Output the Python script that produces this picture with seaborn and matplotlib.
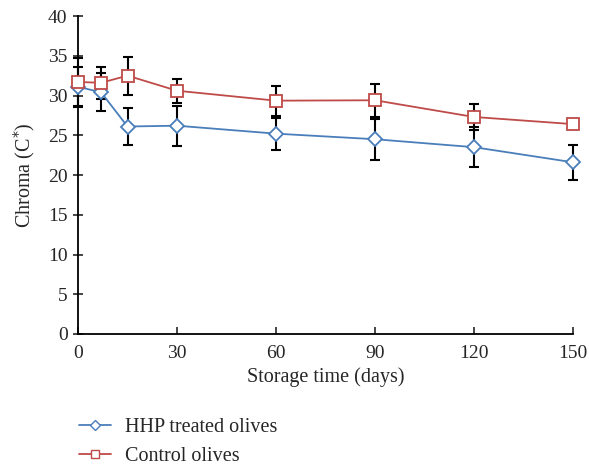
import matplotlib
matplotlib.use("Agg")
import matplotlib.pyplot as plt
import seaborn as sns
import pandas as pd
import numpy as np
from matplotlib.lines import Line2D

days = [0, 7, 15, 30, 60, 90, 120, 150]
hhp = [31.1, 30.4, 26.1, 26.2, 25.2, 24.5, 23.5, 21.6]
hhp_err = [2.5, 2.4, 2.3, 2.5, 2.0, 2.6, 2.5, 2.2]
control = [31.7, 31.6, 32.5, 30.6, 29.35, 29.4, 27.3, 26.4]
control_err = [3.0, 2.0, 2.4, 1.5, 1.9, 2.1, 1.6, 0.5]
series_names = ["HHP treated olives", "Control olives"]
yticks = [0, 5, 10, 15, 20, 25, 30, 35, 40]
xticks = [0, 30, 60, 90, 120, 150]

sns.set_style("white")
plt.rcParams['font.family'] = ['Liberation Serif', 'DejaVu Serif']

df = pd.DataFrame({
    "day": days * 2,
    "value": hhp + control,
    "series": [series_names[0]] * len(days) + [series_names[1]] * len(days),
})

fig = plt.figure(figsize=(5.89, 4.69), dpi=100)
ax = fig.add_axes([78/589, 1 - 334/469, (573-78)/589, (334-16)/469])

blue = "#4a7ebb"
red = "#be4b48"

ax.errorbar(days, hhp, yerr=hhp_err, fmt="none", ecolor="black", elinewidth=1.5,
            capsize=3.5, capthick=1.5, zorder=1, clip_on=False)
ax.errorbar(days, control, yerr=control_err, fmt="none", ecolor="black", elinewidth=1.5,
            capsize=3.5, capthick=1.5, zorder=1, clip_on=False)

before = list(ax.lines)
sns.lineplot(data=df, x="day", y="value", hue="series", style="series",
             markers={series_names[0]: "D", series_names[1]: "s"},
             dashes=False, palette={series_names[0]: blue, series_names[1]: red},
             ax=ax, linewidth=1.3, zorder=3, legend=False)
for line in ax.lines:
    if line in before:
        continue
    if line.get_marker() == "D":
        line.set_markersize(7)
    elif line.get_marker() == "s":
        line.set_markersize(8.5)
    line.set_markeredgecolor(line.get_color())
    line.set_markerfacecolor("white")
    line.set_markeredgewidth(1.3)
    line.set_clip_on(False)

ax.set_xlim(0, 150)
ax.set_ylim(0, 40)
ax.set_xticks(xticks)
ax.set_yticks(yticks)
ax.tick_params(axis="y", direction="inout", length=7, width=1.2, labelsize=14, pad=4, left=True)
ax.tick_params(axis="x", direction="in", length=5, width=1.2, labelsize=14, pad=8, bottom=True)
for s in ["top", "right"]:
    ax.spines[s].set_visible(False)
for s in ["left", "bottom"]:
    ax.spines[s].set_color("black")
    ax.spines[s].set_linewidth(1.3)

ax.set_xlabel("Storage time (days)", fontsize=14.5)
ax.set_ylabel("Chroma (C$^{*}$)", fontsize=14.5, labelpad=8)

handles = [
    Line2D([], [], color=blue, marker="D", markersize=5, markerfacecolor="white", markeredgecolor=blue, linewidth=1.3),
    Line2D([], [], color=red, marker="s", markersize=6, markerfacecolor="white", markeredgecolor=red, linewidth=1.3),
]
fig.legend(handles, series_names, loc="lower left", bbox_to_anchor=(76/589, 0.0), frameon=False,
           fontsize=14.5, handlelength=1.6, labelspacing=0.5, handletextpad=0.7,
           borderaxespad=0.0, borderpad=0.15)

fig.savefig("out.png", dpi=100)
